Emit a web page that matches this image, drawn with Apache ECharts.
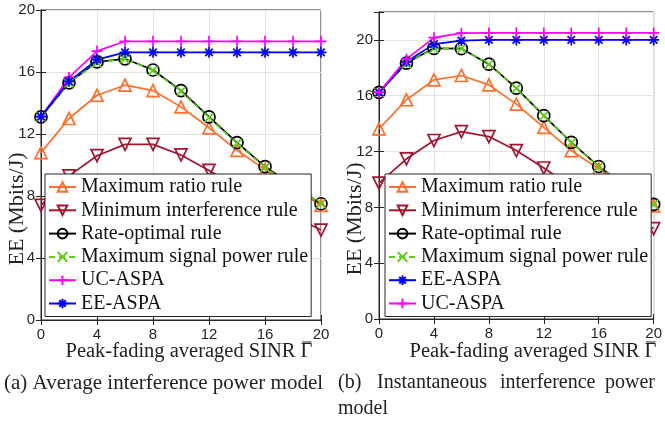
<!DOCTYPE html>
<html>
<head>
<meta charset="utf-8">
<script src="https://cdn.jsdelivr.net/npm/echarts@6/dist/echarts.min.js"></script>
<style>
html,body{margin:0;padding:0;background:#fff;}
#chart{width:665px;height:424px;}
</style>
</head>
<body>
<div id="chart"></div>
<script>
// ---------- data ----------
var sinrValues = [0, 2, 4, 6, 8, 10, 12, 14, 16, 18, 20];
var xTicks = [0, 4, 8, 12, 16, 20];

var seriesNames = ['Maximum ratio rule', 'Minimum interference rule', 'Rate-optimal rule',
                   'Maximum signal power rule', 'UC-ASPA', 'EE-ASPA'];

// (a) Average interference power model
var maxRatioA  = [10.8, 13.0, 14.5, 15.15, 14.8, 13.75, 12.4, 10.95, 9.7, 8.5, 7.4];
var minIntA    = [7.4, 9.3, 10.6, 11.33, 11.33, 10.65, 9.65, 8.6, 7.6, 6.7, 5.8];
var rateOptA   = [13.1, 15.3, 16.65, 16.85, 16.13, 14.8, 13.1, 11.45, 9.9, 8.65, 7.5];
var maxSigA    = [13.1, 15.3, 16.6, 16.85, 16.1, 14.75, 13.05, 11.4, 9.85, 8.6, 7.5];
var ucAspaA    = [13.12, 15.65, 17.35, 17.98, 17.98, 17.98, 17.98, 17.98, 17.98, 17.98, 17.98];
var eeAspaA    = [13.12, 15.4, 16.8, 17.27, 17.27, 17.27, 17.27, 17.27, 17.27, 17.27, 17.27];

// (b) Instantaneous interference power model
var maxRatioB  = [13.62, 15.71, 17.14, 17.45, 16.78, 15.4, 13.73, 12.07, 10.76, 9.4, 8.1];
var minIntB    = [9.74, 11.48, 12.79, 13.43, 13.07, 12.07, 10.82, 9.5, 8.4, 7.4, 6.48];
var rateOptB   = [16.24, 18.34, 19.4, 19.38, 18.26, 16.55, 14.57, 12.66, 10.93, 9.5, 8.21];
var maxSigB    = [16.24, 18.3, 19.38, 19.38, 18.24, 16.52, 14.55, 12.64, 10.9, 9.5, 8.21];
var ucAspaB    = [16.24, 18.62, 20.16, 20.48, 20.5, 20.5, 20.5, 20.5, 20.5, 20.5, 20.5];
var eeAspaB    = [16.24, 18.43, 19.7, 19.95, 20.0, 20.0, 20.0, 20.0, 20.0, 20.0, 20.0];

// ---------- styles ----------
var AX = '#262626';
var SERIF = 'Liberation Serif';
var SANS = 'Liberation Sans';
var styles = {
  'Maximum ratio rule':        {color: '#FF6F2E', symbol: 'triangle', size: 12, rotate: 0, dash: 'solid'},
  'Minimum interference rule': {color: '#A2142F', symbol: 'triangle', size: 12, rotate: 180, dash: 'solid'},
  'Rate-optimal rule':         {color: '#000000', symbol: 'circle', size: 12, rotate: 0, dash: 'solid'},
  'Maximum signal power rule': {color: '#5FCC1A', symbol: 'path://M0,0L10,10M10,0L0,10', size: 9, rotate: 0, dash: [6, 4]},
  'UC-ASPA':                   {color: '#FF00FF', symbol: 'path://M5,0L5,10M0,5L10,5', size: 11, rotate: 0, dash: 'solid'},
  'EE-ASPA':                   {color: '#0000FF', symbol: 'path://M5,0L5,10M0,5L10,5M1.6,1.6L8.4,8.4M8.4,1.6L1.6,8.4', size: 11, rotate: 0, dash: 'solid'}
};

function pairs(vals) {
  return sinrValues.map(function (x, i) { return [x, vals[i]]; });
}
function mkSeries(name, vals, gi) {
  var s = styles[name];
  return {
    name: name, type: 'line', xAxisIndex: gi * 2, yAxisIndex: gi * 2,
    data: pairs(vals), clip: false,
    symbol: s.symbol, symbolSize: s.size, symbolRotate: s.rotate,
    showAllSymbol: true,
    lineStyle: {color: s.color, width: 1.7, type: s.dash},
    itemStyle: {color: 'rgba(255,255,255,0)', borderColor: s.color, borderWidth: 1.7},
    emphasis: {disabled: true},
    z: 3
  };
}

var tickFont = {fontFamily: SANS, fontSize: 15, color: AX};
function xAxes(gi) {
  return [{
    type: 'value', gridIndex: gi, min: 0, max: 20, interval: 4, position: 'bottom',
    axisLine: {show: true, lineStyle: {color: AX, width: 1}},
    axisTick: {show: true, inside: true, length: 5, lineStyle: {color: AX}},
    axisLabel: Object.assign({margin: 7}, tickFont),
    splitLine: {show: true, lineStyle: {color: '#E3E3E3', width: 1}}
  }, {
    type: 'value', gridIndex: gi, min: 0, max: 20, interval: 4, position: 'top',
    axisLine: {show: true, lineStyle: {color: AX, width: 1}},
    axisTick: {show: true, inside: true, length: 5, lineStyle: {color: AX}},
    axisLabel: {show: false}, splitLine: {show: false}
  }];
}
function yAxes(gi, ymax) {
  return [{
    type: 'value', gridIndex: gi, min: 0, max: ymax, interval: 4, position: 'left',
    axisLine: {show: true, lineStyle: {color: AX, width: 1}},
    axisTick: {show: true, inside: true, length: 5, lineStyle: {color: AX}},
    axisLabel: Object.assign({margin: 6, formatter: function (v) { return v % 4 === 0 ? String(v) : ''; }}, tickFont),
    splitLine: {show: true, lineStyle: {color: '#E3E3E3', width: 1}}
  }, {
    type: 'value', gridIndex: gi, min: 0, max: ymax, interval: 4, position: 'right',
    axisLine: {show: true, lineStyle: {color: AX, width: 1}},
    axisTick: {show: true, inside: true, length: 5, lineStyle: {color: AX}},
    axisLabel: {show: false}, splitLine: {show: false}
  }];
}

function legendCfg(left, names) {
  return {
    orient: 'vertical', left: left, top: 174, data: names,
    padding: [3, 3, 3, 3], itemGap: 3.3, itemWidth: 27, itemHeight: 12,
    backgroundColor: '#fff', borderColor: AX, borderWidth: 1, borderRadius: 0,
    selectedMode: false,
    textStyle: {fontFamily: SERIF, fontSize: 20, color: '#111', lineHeight: 20}
  };
}

function txt(x, y, s, size, align, rot) {
  return {type: 'text', x: x, y: y, rotation: rot || 0, z: 10,
    style: {text: s, fontFamily: SERIF, fontSize: size, fill: '#222',
      align: align || 'left', verticalAlign: 'middle'}};
}

// measure to place the bar over Gamma
var mctx = document.createElement('canvas').getContext('2d');
function measure(s, size) { mctx.font = size + 'px ' + SERIF; return mctx.measureText(s).width; }
var XLAB = 'Peak-fading averaged SINR \u0393';
var XLS = 20.5;
function xLabel(cx, cy) {
  var W = measure(XLAB, XLS), g = measure('\u0393', XLS);
  var gl = cx + W / 2 - g;
  return [txt(cx, cy, XLAB, XLS, 'center'),
    {type: 'line', z: 10, shape: {x1: gl + 1.5, y1: cy - 10, x2: gl + g - 1, y2: cy - 10},
     style: {stroke: '#222', lineWidth: 1}}];
}

var orderA = seriesNames;
var orderB = ['Maximum ratio rule', 'Minimum interference rule', 'Rate-optimal rule',
              'Maximum signal power rule', 'EE-ASPA', 'UC-ASPA'];
var dataA = {'Maximum ratio rule': maxRatioA, 'Minimum interference rule': minIntA,
  'Rate-optimal rule': rateOptA, 'Maximum signal power rule': maxSigA,
  'UC-ASPA': ucAspaA, 'EE-ASPA': eeAspaA};
var dataB = {'Maximum ratio rule': maxRatioB, 'Minimum interference rule': minIntB,
  'Rate-optimal rule': rateOptB, 'Maximum signal power rule': maxSigB,
  'UC-ASPA': ucAspaB, 'EE-ASPA': eeAspaB};

var series = [];
orderA.forEach(function (n) { series.push(mkSeries(n, dataA[n], 0)); });
orderB.forEach(function (n) { series.push(mkSeries(n, dataB[n], 1)); });

var option = {
  backgroundColor: '#fff',
  animation: false,
  grid: [
    {left: 41, top: 10, width: 280, height: 310, show: true, borderColor: AX, borderWidth: 1, backgroundColor: '#fff'},
    {left: 379, top: 12, width: 280, height: 307, show: true, borderColor: AX, borderWidth: 1, backgroundColor: '#fff'}
  ],
  xAxis: xAxes(0).concat(xAxes(1)),
  yAxis: yAxes(0, 20).concat(yAxes(1, 22)),
  legend: [legendCfg(45, orderA), legendCfg(385, orderB)],
  series: series,
  graphic: [
    txt(17, 209, 'EE (Mbits/J)', 22, 'center', Math.PI / 2),
    txt(355, 219, 'EE (Mbits/J)', 22, 'center', Math.PI / 2),
    txt(4, 383, '(a) Average interference power model', 21, 'left'),
    txt(338, 383, '(b)', 20, 'left'),
    txt(377, 383, 'Instantaneous', 20, 'left'),
    txt(500, 383, 'interference', 20, 'left'),
    txt(605, 383, 'power', 20, 'left'),
    txt(338, 409, 'model', 20, 'left')
  ].concat(xLabel(189, 352)).concat(xLabel(533, 352))
};

var chart = echarts.init(document.getElementById('chart'), null, {renderer: 'canvas'});
chart.setOption(option);
</script>
</body>
</html>
